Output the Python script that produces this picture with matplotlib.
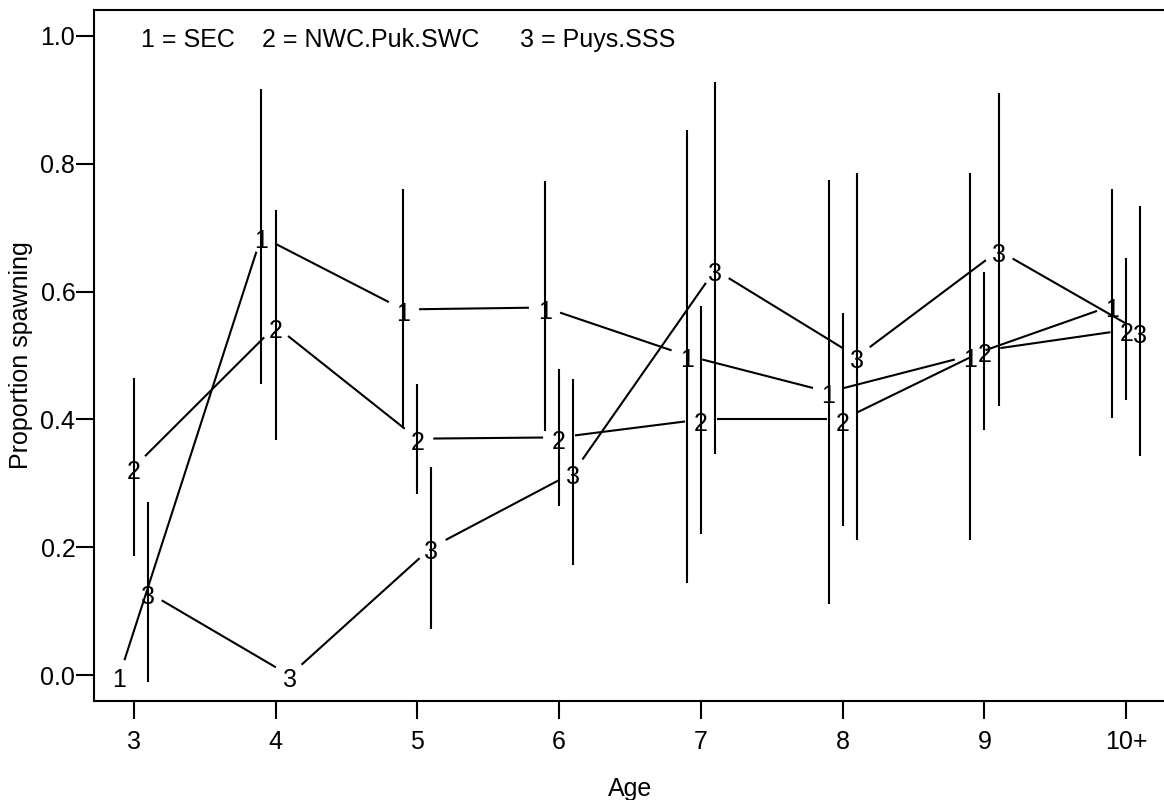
import numpy as np
import matplotlib
matplotlib.use("Agg")
import matplotlib.pyplot as plt
from matplotlib.transforms import offset_copy

# Proportion spawning by age class, three areas
age_labels = ['3', '4', '5', '6', '7', '8', '9', '10+']
ages = np.arange(3, 11)

area_names = ['SEC', 'NWC.Puk.SWC', 'Puys.SSS']

p_sec = [0.0, 0.686, 0.572, 0.575, 0.50, 0.443, 0.50, 0.578]
lo_sec = [np.nan, 0.455, 0.387, 0.382, 0.145, 0.112, 0.212, 0.402]
hi_sec = [np.nan, 0.917, 0.76, 0.772, 0.853, 0.775, 0.786, 0.76]

p_nwc = [0.325, 0.546, 0.37, 0.372, 0.40, 0.40, 0.508, 0.54]
lo_nwc = [0.186, 0.368, 0.284, 0.265, 0.221, 0.234, 0.384, 0.43]
hi_nwc = [0.465, 0.727, 0.455, 0.479, 0.577, 0.566, 0.63, 0.652]

p_puys = [0.13, 0.0, 0.20, 0.317, 0.634, 0.498, 0.664, 0.537]
lo_puys = [-0.01, np.nan, 0.073, 0.172, 0.346, 0.212, 0.421, 0.343]
hi_puys = [0.271, np.nan, 0.325, 0.463, 0.928, 0.786, 0.91, 0.733]

series = [
    ('1', -0.1, p_sec, lo_sec, hi_sec),
    ('2', 0.0, p_nwc, lo_nwc, hi_nwc),
    ('3', 0.1, p_puys, lo_puys, hi_puys),
]

plt.rcParams['font.family'] = ['Liberation Sans', 'DejaVu Sans']
FS = 18
LW = 1.5

fig = plt.figure(figsize=(11.64, 8), dpi=100)
ax = fig.add_axes([94 / 1164, 99 / 800, 1072 / 1164, 691 / 800])
ax.set_xlim(2.72, 10.28)
ax.set_ylim(-0.04, 1.04)

for sp in ax.spines.values():
    sp.set_linewidth(LW)

ax.set_xticks(ages)
ax.set_xticklabels(age_labels)
ax.set_yticks([0, 0.2, 0.4, 0.6, 0.8, 1.0])
ax.set_yticklabels(['0.0', '0.2', '0.4', '0.6', '0.8', '1.0'])
ax.tick_params(axis='both', direction='out', length=13, width=LW,
               labelsize=FS)
ax.tick_params(axis='x', pad=8)
ax.tick_params(axis='y', pad=0.5)

ax.set_xlabel('Age', fontsize=FS)
ax.xaxis.set_label_coords(0.5, -0.128)
ax.xaxis.label.set_va('center')
ax.set_ylabel('Proportion spawning', fontsize=FS)
ax.yaxis.set_label_coords(-0.068, 0.5)
ax.yaxis.label.set_va('center')

# R-style type="b": lines broken around the plotting characters
gap = 16.0
char_tr = offset_copy(ax.transData, fig=fig, x=0, y=-11.5, units='dots')
inv = ax.transData.inverted()

for ch, dx, p, lo, hi in series:
    x = ages + dx
    p = np.asarray(p)
    ax.vlines(x, lo, hi, colors='black', linewidth=LW)
    pts = ax.transData.transform(np.column_stack([x, p]))
    for a, b in zip(pts[:-1], pts[1:]):
        d = b - a
        L = np.hypot(*d)
        if L <= 2 * gap:
            continue
        u = d / L
        seg = inv.transform(np.vstack([a + u * gap, b - u * gap]))
        ax.plot(seg[:, 0], seg[:, 1], color='black', linewidth=LW,
                solid_capstyle='butt')
    for xi, yi in zip(x, p):
        ax.text(xi, yi, ch, fontsize=FS, ha='center', va='baseline',
                transform=char_tr)

# key across the top of the panel
key_x = [141, 262, 520]
for (ch, *_), name, kx in zip(series, area_names, key_x):
    fig.text(kx / 1164, 1 - 40 / 800, f'{ch} = {name}', fontsize=FS,
             ha='left', va='center')

fig.savefig('out.png', dpi=100)
